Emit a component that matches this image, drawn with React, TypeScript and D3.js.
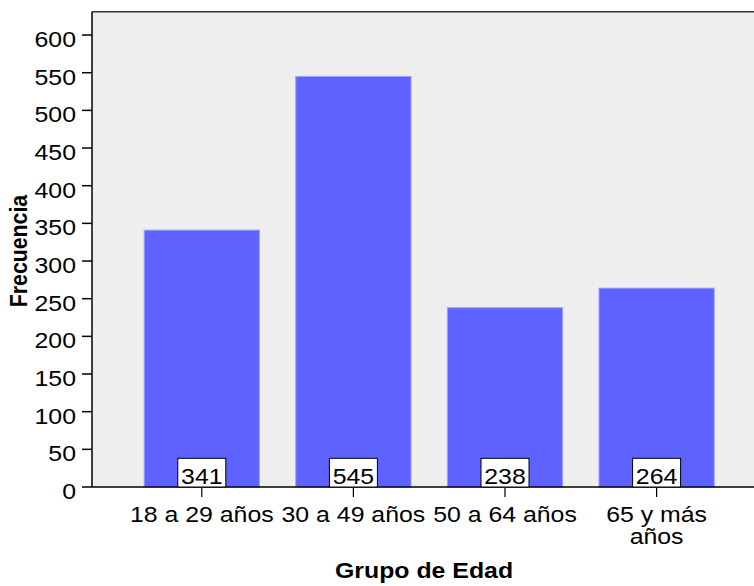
import React from "react";
import * as d3 from "d3";

const categories = ["18 a 29 años", "30 a 49 años", "50 a 64 años", "65 y más años"];
const categoryLines = [["18 a 29 años"], ["30 a 49 años"], ["50 a 64 años"], ["65 y más", "años"]];
const values = [341, 545, 238, 264];
const yTicks = [0, 50, 100, 150, 200, 250, 300, 350, 400, 450, 500, 550, 600];

const W = 754;
const H = 586;
const plotLeft = 92;
const plotTop = 11.7;
const plotBottom = 487;
const SX = 1.13;
const FS = 22;
const FONT = "'Liberation Sans', Arial, sans-serif";

export default function App() {
  const x = d3
    .scaleBand<string>()
    .domain(categories)
    .range([126, 732.4])
    .paddingInner(0.24)
    .paddingOuter(0.12);
  const y = d3.scaleLinear().domain([0, 631]).range([plotBottom, plotTop]);

  return (
    <svg width={W} height={H} style={{ position: "absolute", left: 0, top: 0 }} fontFamily={FONT}>
      <rect x={plotLeft} y={plotTop} width={W - plotLeft} height={plotBottom - plotTop} fill="#eeeeee" />
      {categories.map((c, i) => (
        <rect
          key={c}
          x={x(c)!}
          y={y(values[i])}
          width={x.bandwidth()}
          height={plotBottom - y(values[i])}
          fill="#5e62ff"
          stroke="#9c9eff"
          strokeWidth={1}
        />
      ))}
      <line x1={plotLeft} x2={W} y1={plotTop} y2={plotTop} stroke="#333" strokeWidth={1.5} />
      <line x1={plotLeft} x2={plotLeft} y1={plotTop} y2={plotBottom} stroke="#000" strokeWidth={1.5} />
      <line x1={plotLeft} x2={W} y1={plotBottom} y2={plotBottom} stroke="#000" strokeWidth={1.5} />
      {yTicks.map((t) => (
        <g key={t}>
          <line x1={plotLeft - 10} x2={plotLeft} y1={y(t)} y2={y(t)} stroke="#000" strokeWidth={1.5} />
          <text
            transform={`translate(76,${y(t) + 12}) scale(${SX},1)`}
            textAnchor="end"
            fontSize={FS}
            fill="#000"
          >
            {t}
          </text>
        </g>
      ))}
      {categories.map((c, i) => {
        const cx = x(c)! + x.bandwidth() / 2;
        return (
          <g key={c + "lab"}>
            <rect x={cx - 24} y={458.3} width={48} height={plotBottom - 458.3} fill="#fff" stroke="#000" strokeWidth={1} />
            <text transform={`translate(${cx},483.5) scale(${SX},1)`} textAnchor="middle" fontSize={FS} fill="#000">
              {values[i]}
            </text>
            <line x1={cx} x2={cx} y1={488} y2={497} stroke="#000" strokeWidth={1.2} />
            {categoryLines[i].map((ln, j) => (
              <text
                key={j}
                transform={`translate(${cx},${521.7 + j * 22.3}) scale(${SX},1)`}
                textAnchor="middle"
                fontSize={FS}
                fill="#000"
              >
                {ln}
              </text>
            ))}
          </g>
        );
      })}
      <text transform={`translate(424,578) scale(${SX},1)`} textAnchor="middle" fontSize={FS} fontWeight="bold">
        Grupo de Edad
      </text>
      <text transform={`translate(27,251) rotate(-90) scale(1,${SX})`} textAnchor="middle" fontSize={21.3} fontWeight="bold">
        Frecuencia
      </text>
    </svg>
  );
}
